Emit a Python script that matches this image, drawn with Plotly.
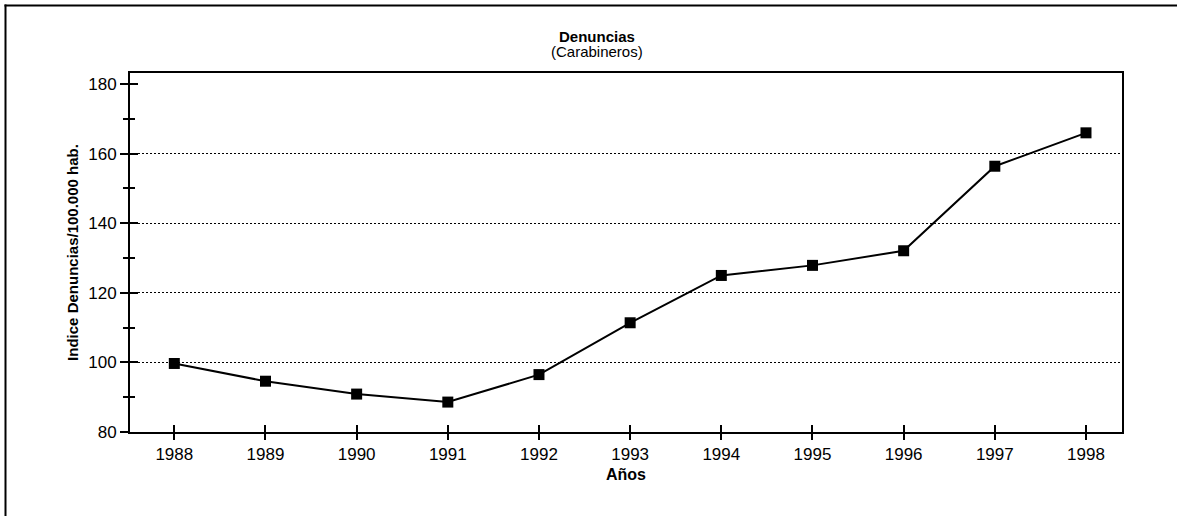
import plotly.graph_objects as go

years = [1988, 1989, 1990, 1991, 1992, 1993, 1994, 1995, 1996, 1997, 1998]
indice = [99.7, 94.6, 90.9, 88.6, 96.5, 111.4, 125.0, 127.9, 132.1, 156.4, 166.0]
y_ticks = [80, 100, 120, 140, 160, 180]
grid_vals = [100, 120, 140, 160]
title_main = "Denuncias"
title_sub = "(Carabineros)"
x_title = "Años"
y_title = "Indice Denuncias/100.000 hab."

W, H = 1177, 516
L, R, T, B = 130, 1122, 73, 432
x_range = [1987.514, 1998.395]
y_range = [80, 183.2]

FONT = "Liberation Sans, Arial, sans-serif"
pw, ph = R - L, B - T


def px_to_paper_x(px):
    return (px - L) / pw


def px_to_paper_y(py):
    return (B - py) / ph


fig = go.Figure()
fig.add_trace(go.Scatter(
    x=years, y=indice, mode="lines+markers",
    line=dict(color="black", width=2),
    marker=dict(symbol="square", size=11, color="black"),
    xaxis="x", yaxis="y", showlegend=False, hoverinfo="x+y",
))
# empty traces to activate overlay axes (inside ticks / grid)
fig.add_trace(go.Scatter(x=[None], y=[None], xaxis="x2", yaxis="y2", showlegend=False))
fig.add_trace(go.Scatter(x=[None], y=[None], xaxis="x", yaxis="y3", showlegend=False))

tickfont = dict(family=FONT, size=17, color="black")

fig.update_layout(
    width=W, height=H,
    margin=dict(l=L, r=W - R, t=T, b=H - B, pad=0),
    paper_bgcolor="white", plot_bgcolor="white",
    font=dict(family=FONT, color="black"),
    xaxis=dict(
        range=x_range, tickmode="array", tickvals=years,
        ticks="outside", ticklen=6, tickwidth=2, tickcolor="black",
        showline=True, linewidth=2, linecolor="black", mirror=True,
        showgrid=False, zeroline=False, tickfont=tickfont,
        title=dict(text="<b>" + x_title + "</b>",
                   font=dict(family=FONT, size=16, color="black"), standoff=5),
    ),
    xaxis2=dict(
        range=x_range, overlaying="x", anchor="y2", side="bottom",
        tickmode="array", tickvals=years,
        ticks="inside", ticklen=7, tickwidth=2, tickcolor="black",
        showticklabels=False, showline=False, showgrid=False, zeroline=False,
    ),
    yaxis=dict(
        range=y_range, tickmode="array", tickvals=y_ticks,
        ticks="outside", ticklen=8, tickwidth=2, tickcolor="black",
        minor=dict(tickmode="linear", tick0=80, dtick=10, ticks="outside",
                   ticklen=5, tickwidth=2, tickcolor="black", showgrid=False),
        showline=True, linewidth=2, linecolor="black", mirror=True,
        showgrid=False, zeroline=False, tickfont=tickfont,
        title=dict(text="<b>" + y_title + "</b>",
                   font=dict(family=FONT, size=15, color="black"), standoff=6),
    ),
    yaxis2=dict(
        range=y_range, overlaying="y", anchor="x2", side="left",
        tickmode="array", tickvals=y_ticks,
        ticks="inside", ticklen=8, tickwidth=2, tickcolor="black",
        minor=dict(tickmode="linear", tick0=80, dtick=10, ticks="inside",
                   ticklen=5, tickwidth=2, tickcolor="black", showgrid=False),
        showticklabels=False, showline=False, showgrid=False, zeroline=False,
    ),
    yaxis3=dict(
        range=y_range, overlaying="y", anchor="x", side="left",
        tickmode="array", tickvals=grid_vals, ticks="",
        showticklabels=False, showline=False, zeroline=False,
        showgrid=True, gridcolor="black", gridwidth=1, griddash="2px,2px",
    ),
)

# title lines
fig.add_annotation(
    text="<b>" + title_main + "</b>", xref="paper", yref="paper",
    x=px_to_paper_x(597), y=px_to_paper_y(36), xanchor="center", yanchor="middle",
    showarrow=False, font=dict(family=FONT, size=15, color="black"),
)
fig.add_annotation(
    text=title_sub, xref="paper", yref="paper",
    x=px_to_paper_x(597), y=px_to_paper_y(51), xanchor="center", yanchor="middle",
    showarrow=False, font=dict(family=FONT, size=15, color="black"),
)

# outer frame: only its left and top edges fall inside the image
frame = dict(color="black", width=2)
fig.add_shape(
    type="line", xref="paper", yref="paper",
    x0=px_to_paper_x(5.5), x1=px_to_paper_x(5.5),
    y0=px_to_paper_y(H + 5), y1=px_to_paper_y(4.5),
    line=frame, layer="below",
)
fig.add_shape(
    type="line", xref="paper", yref="paper",
    x0=px_to_paper_x(4.5), x1=px_to_paper_x(W + 5),
    y0=px_to_paper_y(5.5), y1=px_to_paper_y(5.5),
    line=frame, layer="below",
)

fig.write_html(
    "out.html",
    config={"displayModeBar": False},
    post_script="document.body.style.margin='0';document.body.style.overflow='hidden';",
)
